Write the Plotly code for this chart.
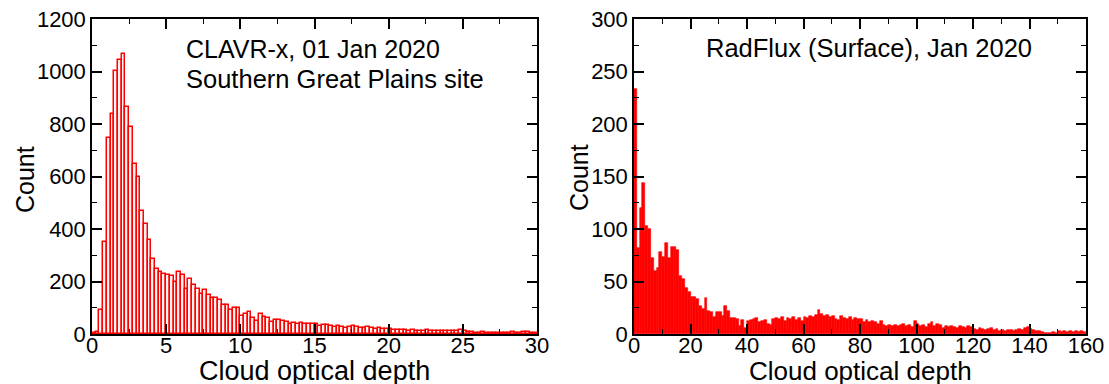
import numpy as np
import plotly.graph_objects as go

# ---------------- data ----------------
# Left panel: CLAVR-x histogram, bin width 0.25 over 0..30
clavr_bin_width = 0.25
clavr_counts = [
    5, 9, 90, 351, 748, 839, 1001, 1045, 1068, 864,
    788, 648, 597, 470, 419, 358, 285, 247, 238, 228,
    225, 221, 198, 238, 224, 171, 209, 186, 171, 152,
    167, 148, 136, 136, 129, 111, 111, 90, 100, 98,
    70, 75, 85, 60, 50, 75, 65, 62, 45, 55,
    54, 50, 46, 38, 42, 40, 42, 40, 40, 38,
    40, 32, 35, 34, 30, 26, 30, 25, 22, 28,
    30, 25, 24, 22, 25, 22, 18, 22, 20, 18,
    20, 16, 15, 15, 14, 12, 14, 12, 13, 12,
    14, 12, 13, 11, 12, 10, 13, 10, 12, 14,
    10, 8, 6, 5, 5, 6, 4, 5, 4, 5,
    3, 4, 5, 6, 4, 5, 7, 6, 5, 4,
]

# Right panel: RadFlux histogram, bin width 1 over 0..160
radflux_bin_width = 1.0
radflux_counts = [
    233, 82, 120, 144, 103, 100, 72, 60, 63, 78,
    73, 87, 72, 83, 83, 80, 55, 52, 44, 40,
    35, 35, 33, 27, 24, 34, 22, 21, 16, 21,
    21, 17, 27, 22, 15, 15, 14, 8, 13, 6,
    12, 13, 14, 15, 11, 12, 13, 10, 9, 14,
    15, 14, 16, 12, 15, 14, 16, 13, 15, 12,
    16, 15, 17, 16, 18, 23, 19, 17, 18, 16,
    17, 14, 13, 17, 15, 14, 16, 13, 15, 14,
    14, 11, 13, 11, 12, 11, 10, 12, 9, 8,
    9, 8, 9, 8, 9, 10, 8, 9, 7, 12,
    10, 8, 9, 7, 10, 11, 8, 10, 9, 6,
    8, 7, 8, 7, 6, 8, 7, 6, 8, 7,
    5, 4, 6, 5, 4, 5, 6, 4, 5, 3,
    4, 3, 4, 4, 3, 4, 5, 4, 6, 7,
    5, 4, 3, 3, 2, 1, 1, 1, 2, 1,
    3, 2, 3, 2, 3, 2, 3, 2, 3, 2,
]

left_xticks = [0, 5, 10, 15, 20, 25, 30]
left_yticks = [0, 200, 400, 600, 800, 1000, 1200]
right_xticks = [0, 20, 40, 60, 80, 100, 120, 140, 160]
right_yticks = [0, 50, 100, 150, 200, 250, 300]

left_title = ["CLAVR-x, 01 Jan 2020", "Southern Great Plains site"]
right_title = "RadFlux (Surface), Jan 2020"
x_label = "Cloud optical depth"
y_label = "Count"

# ---------------- figure ----------------
W, H = 1109, 384
FONT = "Liberation Sans, Arial, Helvetica, sans-serif"

def px_x(p):
    return p / W

def px_y(p):
    return 1 - p / H

clavr_x = (np.arange(len(clavr_counts)) + 0.5) * clavr_bin_width
rad_x = (np.arange(len(radflux_counts)) + 0.5) * radflux_bin_width

fig = go.Figure()
fig.add_trace(go.Bar(
    x=clavr_x, y=clavr_counts, width=clavr_bin_width,
    marker=dict(color="#fff3f3", line=dict(color="#ff0000", width=1.5)),
    xaxis="x", yaxis="y", showlegend=False,
))
fig.add_trace(go.Bar(
    x=rad_x, y=radflux_counts, width=radflux_bin_width,
    marker=dict(color="#ff0000", line=dict(color="#ff0000", width=0.6)),
    xaxis="x2", yaxis="y2", showlegend=False,
))

axis_common = dict(
    showgrid=False, zeroline=False, showline=True, linecolor="black", linewidth=1.5,
    mirror="allticks", ticks="inside", ticklen=10, tickwidth=1.5, tickcolor="black",
    tickfont=dict(family=FONT, size=22, color="black"),
    automargin=False,
    minor=dict(ticks="inside", ticklen=5, tickwidth=1.2, tickcolor="black", showgrid=False),
)

ydom = [px_y(334), px_y(19)]

fig.update_layout(
    width=W, height=H,
    margin=dict(l=0, r=0, t=0, b=0),
    paper_bgcolor="white", plot_bgcolor="white",
    bargap=0,
    font=dict(family=FONT, color="black"),
    xaxis=dict(axis_common, domain=[px_x(92), px_x(537)], range=[0, 30],
               tickvals=left_xticks, ticktext=[str(v) for v in left_xticks],
               minor=dict(axis_common["minor"], dtick=2.5, tick0=0),
               ticklabelstandoff=-9, anchor="y"),
    yaxis=dict(axis_common, domain=ydom, range=[0, 1200],
               tickvals=left_yticks, ticktext=[str(v) for v in left_yticks],
               minor=dict(axis_common["minor"], dtick=100, tick0=0),
               anchor="x"),
    xaxis2=dict(axis_common, domain=[px_x(634), px_x(1086)], range=[0, 160],
                tickvals=right_xticks, ticktext=[str(v) for v in right_xticks],
                minor=dict(axis_common["minor"], dtick=10, tick0=0),
                ticklabelstandoff=-9, anchor="y2"),
    yaxis2=dict(axis_common, domain=ydom, range=[0, 300],
                tickvals=right_yticks, ticktext=[str(v) for v in right_yticks],
                minor=dict(axis_common["minor"], dtick=25, tick0=0),
                anchor="x2"),
)

def label(text, x, y, size, angle=0, xanchor="center"):
    fig.add_annotation(xref="paper", yref="paper", x=px_x(x), y=px_y(y),
                       text=text, showarrow=False, xanchor=xanchor, yanchor="middle",
                       textangle=angle, font=dict(family=FONT, size=size, color="black"))

# panel texts
label(left_title[0], 184, 49, 25, xanchor="left")
label(left_title[1], 184, 79, 25.5, xanchor="left")
label(right_title, 869, 48, 25.5)

# axis titles
label(x_label, 314.5, 371, 27)
label(x_label, 860, 371, 26)
label(y_label, 25, 180, 25, angle=-90)
label(y_label, 579, 178, 25, angle=-90)

fig.write_html("out.html")
